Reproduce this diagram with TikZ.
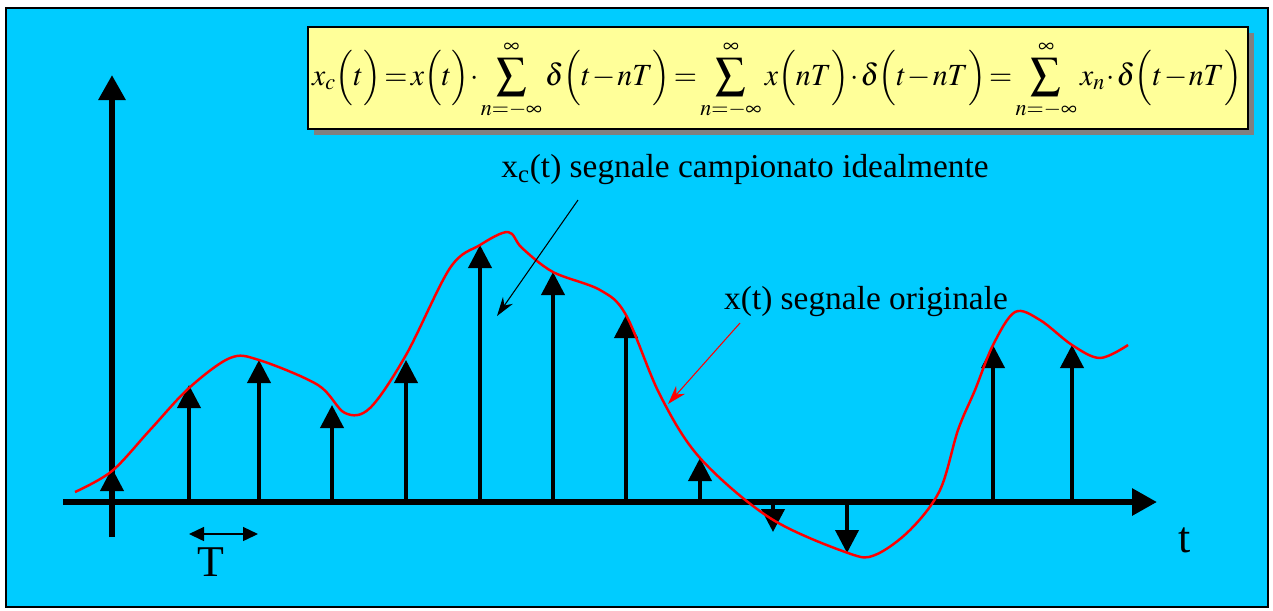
\documentclass[tikz,border=0pt]{standalone}
\usepackage{mathptmx}
\usepackage{fontspec}
\setmainfont{Liberation Serif}
\usetikzlibrary{arrows.meta}
\definecolor{skyfill}{HTML}{00CCFF}
\definecolor{boxfill}{HTML}{FFFF99}

\begin{document}
\begin{tikzpicture}[x=0.02cm,y=-0.02cm,
  axis/.style={line width=3.4pt,-{Triangle[length=0.5cm,width=0.52cm]}},
  stem/.style={line width=2.2pt,-{Triangle[length=0.46cm,width=0.46cm]}},
  signal/.style={red,line width=1.4pt},
  lbl/.style={font=\fontsize{19}{23}\selectfont,inner sep=0pt},
  big/.style={font=\fontsize{25}{30}\selectfont,inner sep=0pt},
  pointer/.style={-{Stealth[length=0.38cm,width=0.24cm]},line width=0.6pt}]
\useasboundingbox (0,0) rectangle (1273,610);
\fill[white] (0,0) rectangle (1273,610);
\draw[fill=skyfill,line width=0.8pt] (6,8) rectangle (1268,607);
% formula box with its shadow
\fill[gray] (314,33) rectangle (1254,135);
\draw[fill=boxfill,line width=0.8pt] (308,27) rectangle (1248,129);
\node[inner sep=0pt,font=\fontsize{22}{26}\selectfont] (formula) at (777,80)
  {\resizebox*{18.6cm}{1.6cm}{\thickmuskip=2mu\medmuskip=1mu
   $\displaystyle x_c\Bigl(t\Bigr)=x\Bigl(t\Bigr)\cdot\sum_{n=-\infty}^{\infty}\delta\Bigl(t-nT\Bigr)
   =\sum_{n=-\infty}^{\infty}x\Bigl(nT\Bigr)\cdot\delta\Bigl(t-nT\Bigr)
   =\sum_{n=-\infty}^{\infty}x_n\cdot\delta\Bigl(t-nT\Bigr)$}};
% axes
\draw[axis] (63,502) -- (1157,502);
\draw[axis] (112,537) -- (112,75);
% samples
\foreach \x/\y in {112/468,189/385,259/360,332/405,406/360,480/245,553/272,626/315,
                   700/458,773/532,847/553,993/345,1072/345}
  \draw[stem] (\x,502) -- (\x,\y);
% original signal
\draw[signal] plot[smooth,tension=0.55] coordinates {(75,492) (112,471) (150,430) (189,388)
  (230,358) (259,360) (318,385) (345,413) (370,408) (406,355) (450,268) (480,245)
  (508,232) (522,248) (553,272) (600,290) (626,315) (660,395) (700,458) (770,518)
  (848,553) (875,555) (910,530) (940,490) (958,430) (975,390) (993,345) (1015,312)
  (1040,320) (1072,345) (1100,358) (1128,345)};
% labels
\node[lbl] (sampled) at (745,170) {x\textsubscript{c}(t) segnale campionato idealmente};
\coordinate (sampledfrom) at (578,200);
\coordinate (sampledto) at (497,316);
\draw[pointer] (sampledfrom) -- (sampledto);
\node[lbl] (original) at (866,302) {x(t) segnale originale};
\coordinate (originalfrom) at (740,323);
\coordinate (originalto) at (668,404);
\draw[pointer,red] (originalfrom) -- (originalto);
\coordinate (pleft) at (189,534);
\coordinate (pright) at (258,534);
\draw[{Triangle[length=0.3cm,width=0.28cm]}-{Triangle[length=0.3cm,width=0.28cm]},line width=0.8pt]
  (pleft) -- (pright);
\node[big] (period) at (211,562) {T};
\node[big] (time) at (1185,540) {t};
\end{tikzpicture}
\end{document}
